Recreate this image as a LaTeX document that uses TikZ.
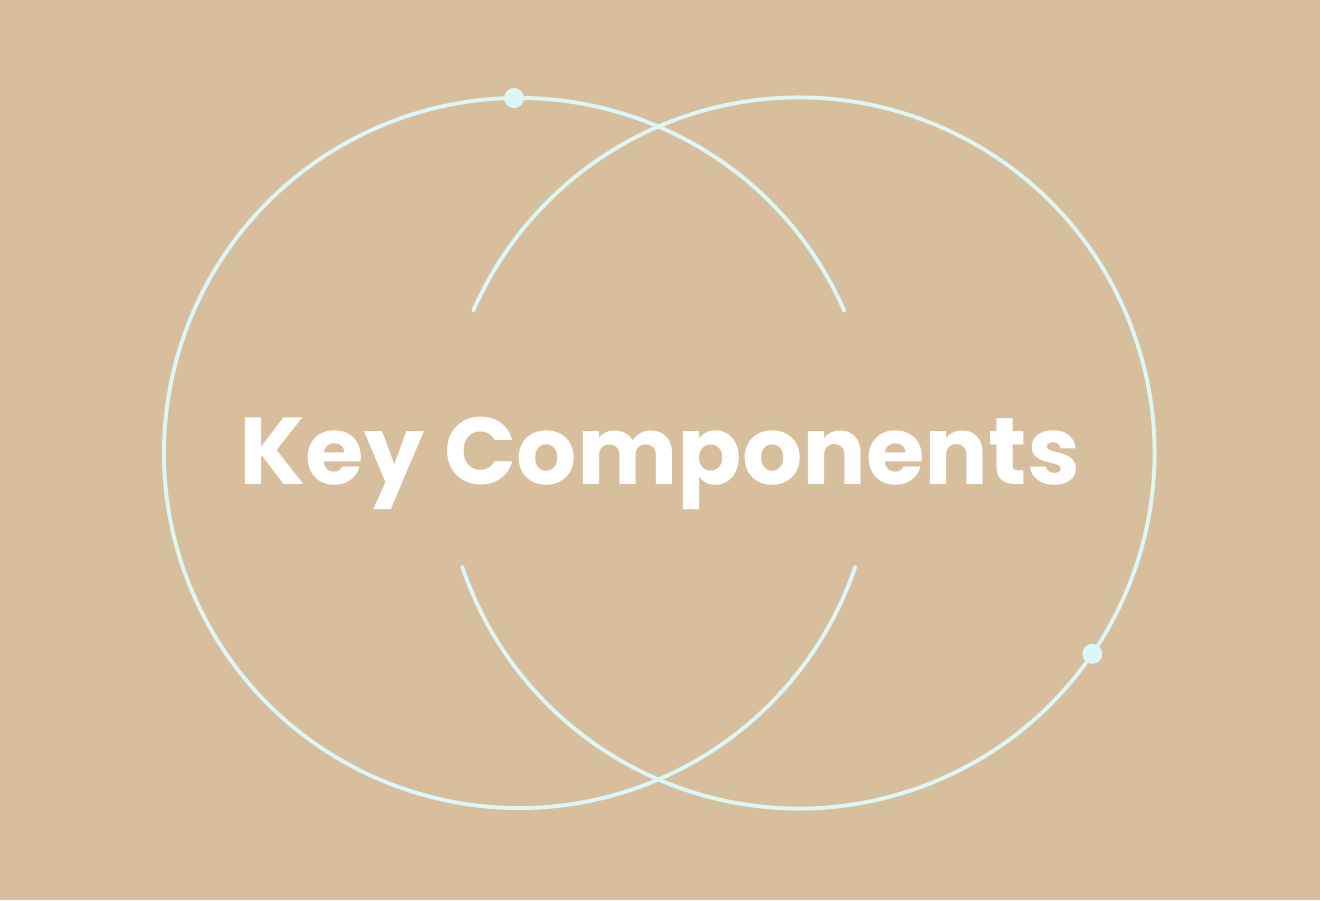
\documentclass[tikz,border=0pt]{standalone}
\usepackage{fontspec}
\setmainfont{Poppins}
\usepackage{tikz}
\definecolor{sand}{HTML}{D7BF9E}
\definecolor{ice}{HTML}{DDF7F7}
\tikzset{
	ring/.style = {
		line width=1.1pt,
		ice,
		line cap=round
	},
	knot/.style = {
		fill=ice
	},
	title/.style = {
		text=white,
		font=\fontsize{27}{32}\selectfont\bfseries
	}
}

\begin{document}
\begin{tikzpicture}
	\fill[sand] (0,0) rectangle (13.2,9);
	\useasboundingbox (0,0) rectangle (13.2,9);
	% left ring, open on its right side
	\draw[ring] (5.19,4.47) ++(23.6:3.55) arc[start angle=23.6, end angle=341.3, radius=3.55];
	% right ring, open on its left side
	\draw[ring] (7.99,4.47) ++(-161.3:3.555) arc[start angle=-161.3, end angle=156.4, radius=3.555];
	\fill[knot] (5.19,4.47) ++(90.8:3.55) circle (0.1);
	\fill[knot] (7.99,4.47) ++(-34.4:3.555) circle (0.1);
	\node[title] (head) at (6.6,4.37) {Key Components};
\end{tikzpicture}
\end{document}
